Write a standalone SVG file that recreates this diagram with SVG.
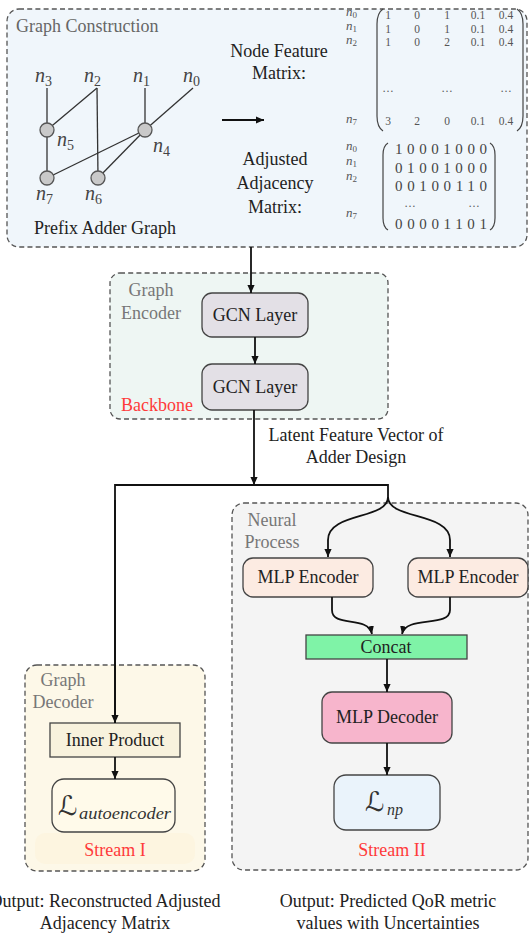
<svg xmlns="http://www.w3.org/2000/svg" width="531" height="934" viewBox="0 0 531 934">
  <style>
    text { font-family: "Liberation Serif", "Times New Roman", serif; fill: #222; }
    .lbl { font-size: 18px; }
    .mid { text-anchor: middle; }
    .grey { fill: #777; }
    .red { fill: #ff3a3a; }
    .math { font-style: italic; }
    .num { font-size: 11.5px; fill: #555; text-anchor: middle; }
    .adj { font-size: 15px; fill: #444; }
    .group { stroke: #555; stroke-width: 1.3; stroke-dasharray: 5 3.2; }
    .box { stroke: #444; stroke-width: 1.3; }
    .edge { fill: none; stroke: #111; stroke-width: 1.8; }
    .gedge { stroke: #333; stroke-width: 1.3; fill: none; }
    .vert { fill: #c9c9c9; stroke: #555; stroke-width: 1.3; }
    .paren { fill: none; stroke: #444; stroke-width: 1.2; }
    .script { font-family: "DejaVu Serif", "DejaVu Sans", serif; }
  </style>
  <defs>
    <marker id="tip" viewBox="0 0 10 10" refX="10" refY="5" markerWidth="8" markerHeight="8" orient="auto" markerUnits="userSpaceOnUse">
      <path d="M0,0.5 L10,5 L0,9.5 z" fill="#111"/>
    </marker>
  </defs>

  <!-- Group containers -->
  <g id="graph-construction">
    <rect x="7" y="9" width="520" height="238" rx="12" fill="#f0f6fb" class="group"/>
    <text x="16" y="32" class="lbl" style="fill:#666">Graph Construction</text>

    <!-- prefix adder graph -->
    <g id="prefix-graph">
      <line x1="47" y1="88" x2="47" y2="130" class="gedge"/>
      <line x1="97" y1="88" x2="47" y2="130" class="gedge"/>
      <line x1="97" y1="88" x2="98" y2="178" class="gedge"/>
      <line x1="145" y1="88" x2="145" y2="130" class="gedge"/>
      <line x1="193" y1="88" x2="145" y2="130" class="gedge"/>
      <line x1="47" y1="130" x2="47" y2="178" class="gedge"/>
      <line x1="145" y1="130" x2="47" y2="178" class="gedge"/>
      <line x1="145" y1="130" x2="98" y2="178" class="gedge"/>
      <circle cx="47" cy="130" r="7" class="vert"/>
      <circle cx="145" cy="130" r="7" class="vert"/>
      <circle cx="47" cy="178" r="7" class="vert"/>
      <circle cx="98" cy="178" r="7" class="vert"/>
      <g font-size="20">
        <text x="35" y="82" class="math" style="fill:#444">n<tspan font-size="14" dy="4" font-style="normal">3</tspan></text>
        <text x="84" y="82" class="math" style="fill:#444">n<tspan font-size="14" dy="4" font-style="normal">2</tspan></text>
        <text x="133" y="82" class="math" style="fill:#444">n<tspan font-size="14" dy="4" font-style="normal">1</tspan></text>
        <text x="183" y="82" class="math" style="fill:#444">n<tspan font-size="14" dy="4" font-style="normal">0</tspan></text>
        <text x="57" y="146" class="math" style="fill:#444">n<tspan font-size="14" dy="4" font-style="normal">5</tspan></text>
        <text x="153" y="152" class="math" style="fill:#444">n<tspan font-size="14" dy="4" font-style="normal">4</tspan></text>
        <text x="36" y="200" class="math" style="fill:#444">n<tspan font-size="14" dy="4" font-style="normal">7</tspan></text>
        <text x="85" y="200" class="math" style="fill:#444">n<tspan font-size="14" dy="4" font-style="normal">6</tspan></text>
      </g>
      <text x="105" y="234" class="lbl mid">Prefix Adder Graph</text>
    </g>

    <!-- node feature matrix -->
    <g id="node-feature-matrix">
      <text x="279" y="57" class="lbl mid">Node Feature</text>
      <text x="279" y="79" class="lbl mid">Matrix:</text>
      <g font-size="13">
        <text x="346" y="16" class="math" style="fill:#555">n<tspan font-size="9" dy="2" font-style="normal">0</tspan></text>
        <text x="346" y="30" class="math" style="fill:#555">n<tspan font-size="9" dy="2" font-style="normal">1</tspan></text>
        <text x="346" y="44" class="math" style="fill:#555">n<tspan font-size="9" dy="2" font-style="normal">2</tspan></text>
        <text x="346" y="123" class="math" style="fill:#555">n<tspan font-size="9" dy="2" font-style="normal">7</tspan></text>
      </g>
      <path d="M383,9 Q377,13 377,24 L377,116 Q377,127 383,131" class="paren"/>
      <path d="M517,9 Q523,13 523,24 L523,116 Q523,127 517,131" class="paren"/>
      <g>
        <text x="388" y="19" class="num">1</text><text x="417" y="19" class="num">0</text><text x="447" y="19" class="num">1</text><text x="478" y="19" class="num">0.1</text><text x="506" y="19" class="num">0.4</text>
        <text x="388" y="33" class="num">1</text><text x="417" y="33" class="num">0</text><text x="447" y="33" class="num">1</text><text x="478" y="33" class="num">0.1</text><text x="506" y="33" class="num">0.4</text>
        <text x="388" y="46" class="num">1</text><text x="417" y="46" class="num">0</text><text x="447" y="46" class="num">2</text><text x="478" y="46" class="num">0.1</text><text x="506" y="46" class="num">0.4</text>
        <text x="388" y="92" class="num">…</text><text x="447" y="92" class="num">…</text><text x="506" y="92" class="num">…</text>
        <text x="388" y="125" class="num">3</text><text x="417" y="125" class="num">2</text><text x="447" y="125" class="num">0</text><text x="478" y="125" class="num">0.1</text><text x="506" y="125" class="num">0.4</text>
      </g>
    </g>

    <!-- adjusted adjacency matrix -->
    <g id="adjacency-matrix">
      <text x="275" y="165" class="lbl mid">Adjusted</text>
      <text x="275" y="189" class="lbl mid">Adjacency</text>
      <text x="275" y="213" class="lbl mid">Matrix:</text>
      <g font-size="13">
        <text x="346" y="150" class="math" style="fill:#555">n<tspan font-size="9" dy="2" font-style="normal">0</tspan></text>
        <text x="346" y="165" class="math" style="fill:#555">n<tspan font-size="9" dy="2" font-style="normal">1</tspan></text>
        <text x="346" y="180" class="math" style="fill:#555">n<tspan font-size="9" dy="2" font-style="normal">2</tspan></text>
        <text x="346" y="217" class="math" style="fill:#555">n<tspan font-size="9" dy="2" font-style="normal">7</tspan></text>
      </g>
      <path d="M388,143 Q383,146 383,155 L383,218 Q383,227 388,230" class="paren"/>
      <path d="M490,143 Q495,146 495,155 L495,218 Q495,227 490,230" class="paren"/>
      <text x="395" y="154" class="adj" textLength="92" lengthAdjust="spacing">10001000</text>
      <text x="395" y="173" class="adj" textLength="92" lengthAdjust="spacing">01001000</text>
      <text x="395" y="191" class="adj" textLength="92" lengthAdjust="spacing">00100110</text>
      <text x="410" y="207" class="num">…</text><text x="474" y="207" class="num">…</text>
      <text x="395" y="229" class="adj" textLength="92" lengthAdjust="spacing">00001101</text>
    </g>
  </g>

  <g id="graph-encoder">
    <rect x="110" y="273" width="278" height="146" rx="10" fill="#eef6f3" class="group"/>
    <text x="151" y="296" class="lbl mid grey">Graph</text>
    <text x="151" y="319" class="lbl mid grey">Encoder</text>
    <text x="157" y="411" class="lbl mid red">Backbone</text>
  </g>

  <g id="graph-decoder">
    <rect x="25" y="665" width="180" height="206" rx="12" fill="#fdf8e8" class="group"/>
    <rect x="35" y="833" width="160" height="31" rx="10" fill="#fcf1d6" opacity="0.45"/>
    <text x="63" y="686" class="lbl mid grey">Graph</text>
    <text x="63" y="708" class="lbl mid grey">Decoder</text>
    <text x="115" y="856" class="lbl mid red">Stream I</text>
  </g>

  <g id="neural-process">
    <rect x="232" y="503" width="296" height="367" rx="12" fill="#f4f4f4" class="group"/>
    <text x="272" y="526" class="lbl mid grey">Neural</text>
    <text x="272" y="548" class="lbl mid grey">Process</text>
    <text x="392" y="856" class="lbl mid red">Stream II</text>
  </g>

  <!-- Nodes -->
  <g id="gcn-layer-1">
    <rect x="202" y="293" width="106" height="44" rx="10" fill="#e3e0e6" class="box"/>
    <text x="255" y="321" class="lbl mid">GCN Layer</text>
  </g>
  <g id="gcn-layer-2">
    <rect x="202" y="364" width="106" height="46" rx="10" fill="#e3e0e6" class="box"/>
    <text x="255" y="393" class="lbl mid">GCN Layer</text>
  </g>
  <g id="mlp-encoder-1">
    <rect x="243" y="558" width="130" height="39" rx="10" fill="#fcebe2" class="box"/>
    <text x="308" y="583" class="lbl mid">MLP Encoder</text>
  </g>
  <g id="mlp-encoder-2">
    <rect x="408" y="558" width="120" height="39" rx="10" fill="#fcebe2" class="box"/>
    <text x="468" y="583" class="lbl mid">MLP Encoder</text>
  </g>
  <g id="concat">
    <rect x="306" y="635" width="161" height="24" fill="#7ff3a7" class="box"/>
    <text x="386" y="653" class="lbl mid">Concat</text>
  </g>
  <g id="mlp-decoder">
    <rect x="322" y="692" width="130" height="51" rx="10" fill="#f7b5cc" class="box"/>
    <text x="387" y="723" class="lbl mid">MLP Decoder</text>
  </g>
  <g id="loss-np">
    <rect x="334" y="775" width="106" height="55" rx="12" fill="#eaf3fb" class="box"/>
    <text x="365" y="811" font-size="27" class="script" style="fill:#333">ℒ</text>
    <text x="387" y="815" font-size="16" class="math" style="fill:#333">np</text>
  </g>
  <g id="inner-product">
    <rect x="50" y="723" width="130" height="34" fill="#f8f2dd" class="box"/>
    <text x="115" y="746" class="lbl mid">Inner Product</text>
  </g>
  <g id="loss-autoencoder">
    <rect x="52" y="779" width="123" height="53" rx="12" fill="#fffaea" class="box"/>
    <text x="58" y="815" font-size="27" class="script" style="fill:#333">ℒ</text>
    <text x="79" y="819" font-size="16" class="math" textLength="92" lengthAdjust="spacingAndGlyphs" style="fill:#333">autoencoder</text>
  </g>

  <!-- Connectors -->
  <g id="connectors">
    <line x1="222" y1="120" x2="264" y2="120" class="edge" marker-end="url(#tip)"/>
    <line x1="251" y1="247" x2="251" y2="293" class="edge" marker-end="url(#tip)"/>
    <line x1="255" y1="337" x2="255" y2="364" class="edge" marker-end="url(#tip)"/>
    <line x1="254" y1="410" x2="254" y2="485" class="edge" marker-end="url(#tip)"/>
    <polyline points="115,723 115,485 388,485 388,498" class="edge" marker-end="none"/>
    <line x1="115" y1="500" x2="115" y2="723" class="edge" marker-end="url(#tip)"/>
    <path d="M388,497 C388,520 328,512 328,540 L328,557" class="edge" marker-end="url(#tip)"/>
    <path d="M388,497 C388,520 450,512 450,540 L450,557" class="edge" marker-end="url(#tip)"/>
    <path d="M332,597 L332,610 C332,628 368,615 372,634" class="edge" marker-end="url(#tip)"/>
    <path d="M450,597 L450,610 C450,628 406,615 402,634" class="edge" marker-end="url(#tip)"/>
    <line x1="387" y1="659" x2="387" y2="692" class="edge" marker-end="url(#tip)"/>
    <line x1="387" y1="743" x2="387" y2="775" class="edge" marker-end="url(#tip)"/>
    <line x1="115" y1="757" x2="115" y2="779" class="edge" marker-end="url(#tip)"/>
  </g>

  <!-- Captions -->
  <g id="captions">
    <text x="356" y="441" class="lbl mid">Latent Feature Vector of</text>
    <text x="356" y="463" class="lbl mid">Adder Design</text>
    <text x="105" y="907" class="lbl mid">Output: Reconstructed Adjusted</text>
    <text x="105" y="929" class="lbl mid">Adjacency Matrix</text>
    <text x="388" y="907" class="lbl mid">Output: Predicted QoR metric</text>
    <text x="388" y="929" class="lbl mid">values with Uncertainties</text>
  </g>
</svg>
